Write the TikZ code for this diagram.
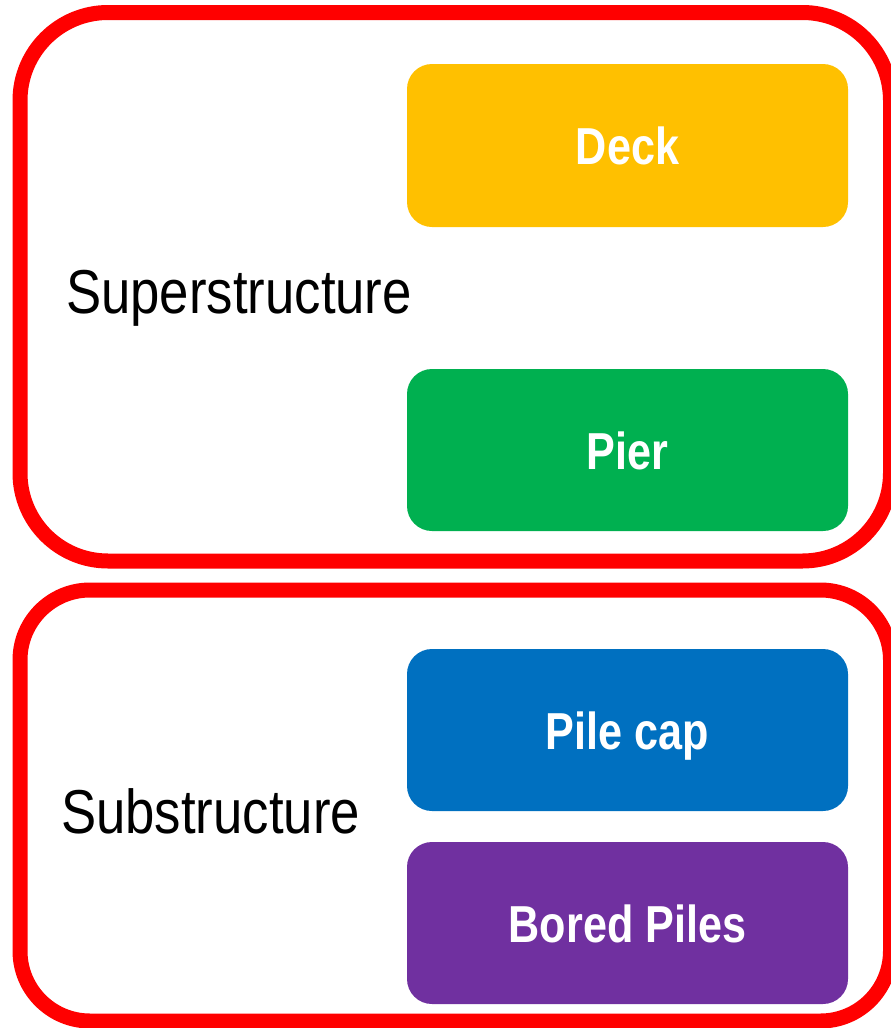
\documentclass[tikz,border=0pt]{standalone}
\usepackage{fontspec}
\setmainfont{Liberation Sans}[FakeStretch=0.83]
\newfontfamily\titlefont{Liberation Sans}[FakeStretch=0.85]
\definecolor{frame}{HTML}{FF0000}
\definecolor{deckc}{HTML}{FFC000}
\definecolor{pierc}{HTML}{00B050}
\definecolor{capc}{HTML}{0070C0}
\definecolor{pilec}{HTML}{7030A0}
\tikzset{
  group/.style={draw=frame, line width=15pt},
  part/.style={inner sep=0pt, anchor=base, text=white,
    font=\fontsize{52}{60}\selectfont\bfseries},
  title/.style={inner sep=0pt, anchor=base west,
    font=\titlefont\fontsize{62}{70}\selectfont}
}
\begin{document}
\begin{tikzpicture}[x=1pt, y=-1pt]
  \useasboundingbox (0,0) rectangle (891,1028);
  % outer groups
  \draw[group, rounded corners=88pt] (20,12.5) rectangle (890.5,561);
  \draw[group, rounded corners=70pt] (20,590) rectangle (890.5,1021);
  % components
  \fill[deckc, rounded corners=25pt] (407,64) rectangle (848,227);
  \node[part] (deck) at (627.5,164.5) {Deck};
  \fill[pierc, rounded corners=25pt] (407,369) rectangle (848,531);
  \node[part] (pier) at (627.5,469) {Pier};
  \fill[capc, rounded corners=25pt] (407,649) rectangle (848,811);
  \node[part] (cap) at (627.5,749) {Pile cap};
  \fill[pilec, rounded corners=25pt] (407,842) rectangle (848,1004);
  \node[part] (piles) at (627.5,942) {Bored Piles};
  % group titles
  \node[title] (super) at (66,313) {Superstructure};
  \node[title] (sub) at (61,833) {Substructure};
\end{tikzpicture}
\end{document}
